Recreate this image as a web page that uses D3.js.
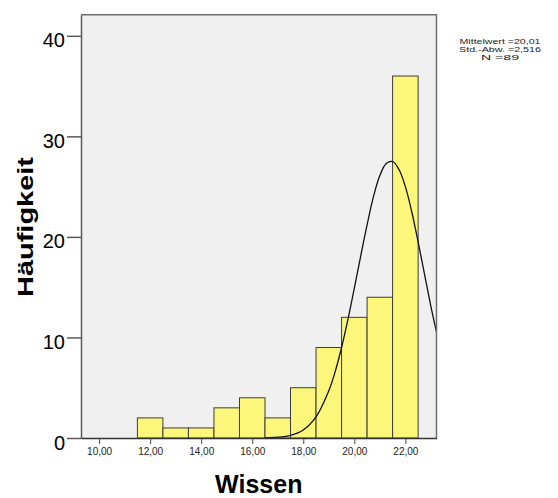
<!DOCTYPE html>
<html lang="de">
<head>
<meta charset="UTF-8">
<title>Wissen Histogramm</title>
<script src="https://d3js.org/d3.v7.min.js"></script>
<style>
  body { margin: 0; background: #ffffff; }
  svg { display: block; font-family: Arial, "Liberation Sans", sans-serif; }
</style>
</head>
<body>
<div id="chart"></div>
<script>
// histogram bins (bin centre) and counts
var bins   = [12, 13, 14, 15, 16, 17, 18, 19, 20, 21, 22];
var counts = [2, 1, 1, 3, 4, 2, 5, 9, 12, 14, 36];

// normal curve
var curveX = [16.5, 17, 17.5, 18, 18.5, 19, 19.25, 19.5, 19.75, 20, 20.25, 20.5, 20.75, 21, 21.25, 21.5, 21.75, 22, 22.25, 22.5, 22.75, 23, 23.25];
var curveY = [0.02, 0.08, 0.27, 0.8, 2.1, 4.7, 6.6, 9.0, 11.8, 14.9, 18.1, 21.2, 24.0, 26.1, 27.3, 27.5, 26.7, 25.0, 22.5, 19.5, 16.3, 13.1, 10.2];

var yTicks = [0, 10, 20, 30, 40];
var xTicks = [10, 12, 14, 16, 18, 20, 22];
var statLines = ["Mittelwert =20,01", "Std.-Abw. =2,516", "N =89"];
var statWidths = [81, 82, 38];

var W = 558, H = 498;
var plot = {left: 81, right: 436.5, top: 14.7, bottom: 438};

var svg = d3.select("#chart").append("svg")
    .attr("width", W)
    .attr("height", H);

var x = d3.scaleLinear().domain([9.29, 23.22]).range([plot.left, plot.right]);
var y = d3.scaleLinear().domain([0, 42.1]).range([plot.bottom, plot.top]);

var de = d3.formatLocale({decimal: ",", thousands: ".", grouping: [3], currency: ["", " €"]});
var fmt = de.format(".2f");

// plot background
svg.append("rect")
    .attr("x", plot.left).attr("y", plot.top)
    .attr("width", plot.right - plot.left)
    .attr("height", plot.bottom - plot.top)
    .attr("fill", "#f0f0f0");

svg.append("clipPath").attr("id", "clip")
  .append("rect")
    .attr("x", plot.left).attr("y", plot.top)
    .attr("width", plot.right - plot.left)
    .attr("height", plot.bottom - plot.top);

// bars
svg.append("g").selectAll("rect")
    .data(bins)
  .enter().append("rect")
    .attr("x", function(d) { return x(d - 0.5); })
    .attr("y", function(d, i) { return y(counts[i]); })
    .attr("width", function(d) { return x(d + 0.5) - x(d - 0.5); })
    .attr("height", function(d, i) { return y(0) - y(counts[i]); })
    .attr("fill", "#fcf77b")
    .attr("stroke", "#3c3c3c")
    .attr("stroke-width", 1);

// normal curve
var pts = curveX.map(function(v, i) { return [v, curveY[i]]; });
svg.append("path")
    .datum(pts)
    .attr("clip-path", "url(#clip)")
    .attr("fill", "none")
    .attr("stroke", "#111")
    .attr("stroke-width", 1.3)
    .attr("d", d3.line()
      .x(function(d) { return x(d[0]); })
      .y(function(d) { return y(d[1]); })
      .curve(d3.curveCatmullRom));

// frame top / right
svg.append("path")
    .attr("d", "M" + plot.left + "," + plot.top + "H" + plot.right + "V" + plot.bottom)
    .attr("fill", "none")
    .attr("stroke", "#6e6e6e")
    .attr("stroke-width", 1.5);

// y axis
var yAxis = svg.append("g")
    .attr("transform", "translate(" + plot.left + ",0)")
    .call(d3.axisLeft(y).tickValues(yTicks).tickSize(14).tickSizeOuter(0).tickPadding(2));
yAxis.select(".domain").attr("stroke", "#5a5a5a").attr("stroke-width", 1.5);
yAxis.selectAll(".tick line").attr("stroke", "#5a5a5a").attr("stroke-width", 1.5);
yAxis.selectAll(".tick text")
    .attr("font-size", "20px")
    .attr("fill", "#000")
    .attr("dy", "0.85em")
    .attr("y", -6)
    .attr("font-family", "Arial, 'Liberation Sans', sans-serif");

// x axis
var xAxis = svg.append("g")
    .attr("transform", "translate(0," + plot.bottom + ")")
    .call(d3.axisBottom(x).tickValues(xTicks).tickFormat(fmt).tickSize(6).tickSizeOuter(0).tickPadding(4));
xAxis.select(".domain").attr("stroke", "#333").attr("stroke-width", 1.5);
xAxis.selectAll(".tick line").attr("stroke", "#444").attr("stroke-width", 1);
xAxis.selectAll(".tick text")
    .attr("font-size", "10px")
    .attr("fill", "#222")
    .attr("font-family", "Arial, 'Liberation Sans', sans-serif");

// axis titles
svg.append("text")
    .attr("x", (plot.left + plot.right) / 2)
    .attr("y", 493)
    .attr("text-anchor", "middle")
    .attr("font-size", "25px")
    .attr("font-weight", "bold")
    .text("Wissen");

svg.append("text")
    .attr("transform", "translate(33,227) rotate(-90)")
    .attr("text-anchor", "middle")
    .attr("font-size", "22px")
    .attr("font-weight", "bold")
    .attr("textLength", 140)
    .attr("lengthAdjust", "spacingAndGlyphs")
    .text("Häufigkeit");

// stats box text
svg.append("g").selectAll("text")
    .data(statLines)
  .enter().append("text")
    .attr("x", function(d, i) { return 500 - statWidths[i] / 2; })
    .attr("y", function(d, i) { return 44 + i * 8; })
    .attr("font-size", "8px")
    .attr("fill", "#222")
    .attr("textLength", function(d, i) { return statWidths[i]; })
    .attr("lengthAdjust", "spacingAndGlyphs")
    .text(function(d) { return d; });
</script>
</body>
</html>
